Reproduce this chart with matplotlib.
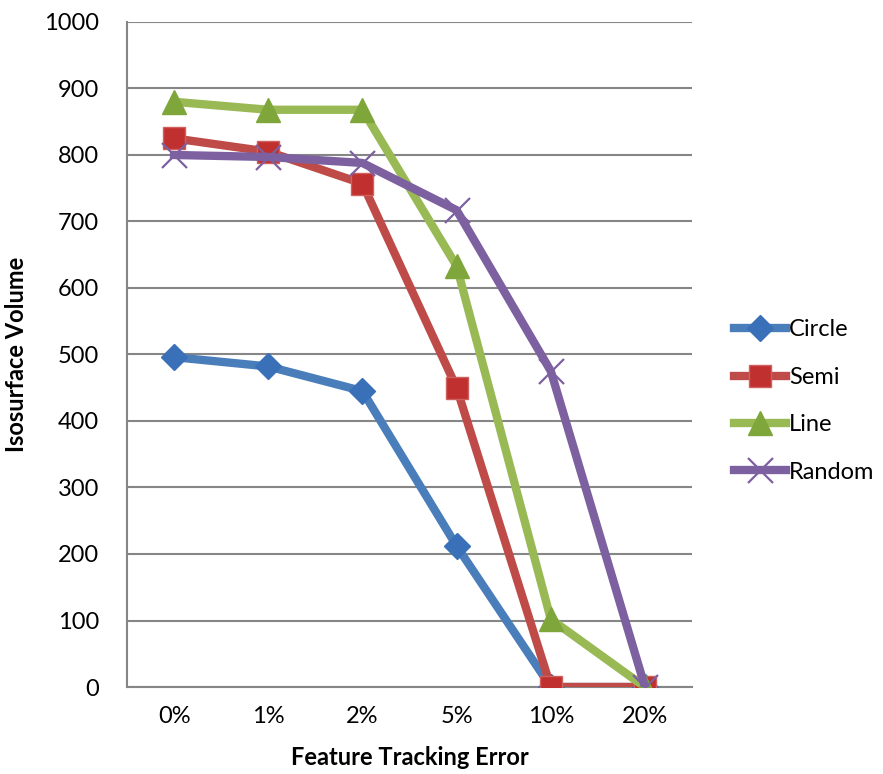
import matplotlib.pyplot as plt

plt.rcParams['font.family'] = ['Lato', 'DejaVu Sans']

categories = ["0%", "1%", "2%", "5%", "10%", "20%"]
circle = [496, 482, 445, 212, 0, 0]
semi = [825, 805, 757, 450, 0, 0]
line = [880, 868, 868, 633, 102, 0]
random_ = [800, 797, 788, 717, 475, 0]

fig = plt.figure(figsize=(8.83, 7.74), dpi=100)
ax = fig.add_axes([0.1438, 0.1124, 0.64, 0.8592])

x = range(len(categories))
ax.plot(x, circle, color="#4A7EBB", lw=6, marker="D", ms=13,
        mfc="#3A70B8", mec="#3A70B8", label="Circle", zorder=3)
ax.plot(x, semi, color="#BE4B48", lw=6, marker="s", ms=16,
        mfc="#C0302E", mec="#D0605E", label="Semi", zorder=4)
ax.plot(x, line, color="#98B954", lw=6, marker="^", ms=17,
        mfc="#7FA63A", mec="#7FA63A", label="Line", zorder=5)
ax.plot(x, random_, color="#7D60A0", lw=6, marker="x", ms=18, mew=1.6,
        mec="#7D60A0", label="Random", zorder=6)

ax.set_xlim(-0.5, len(categories) - 0.5)
ax.set_ylim(0, 1000)
ax.set_yticks(range(0, 1001, 100))
ax.set_xticks(list(x))
ax.set_xticklabels(categories)
ax.tick_params(axis="both", length=0, labelsize=17)
ax.tick_params(axis="y", pad=20)
ax.tick_params(axis="x", pad=14)
ax.grid(axis="y", color="#868686", lw=1.5)
ax.set_axisbelow(True)
for s in ["top", "right"]:
    ax.spines[s].set_visible(False)
ax.spines["left"].set_color("#868686")
ax.spines["left"].set_linewidth(1.5)
ax.spines["bottom"].set_color("#868686")
ax.spines["bottom"].set_linewidth(1.5)

ax.set_ylabel("Isosurface Volume", fontsize=17, fontweight="bold", labelpad=12)
ax.set_xlabel("Feature Tracking Error", fontsize=17, fontweight="bold", labelpad=13)

ax.legend(loc="center left", bbox_to_anchor=(1.075, 0.43), frameon=False,
          fontsize=17, handlelength=2.2, labelspacing=1.12, handletextpad=0.1,
          borderaxespad=0.0, borderpad=0.0)

fig.savefig("out.png", dpi=100)
